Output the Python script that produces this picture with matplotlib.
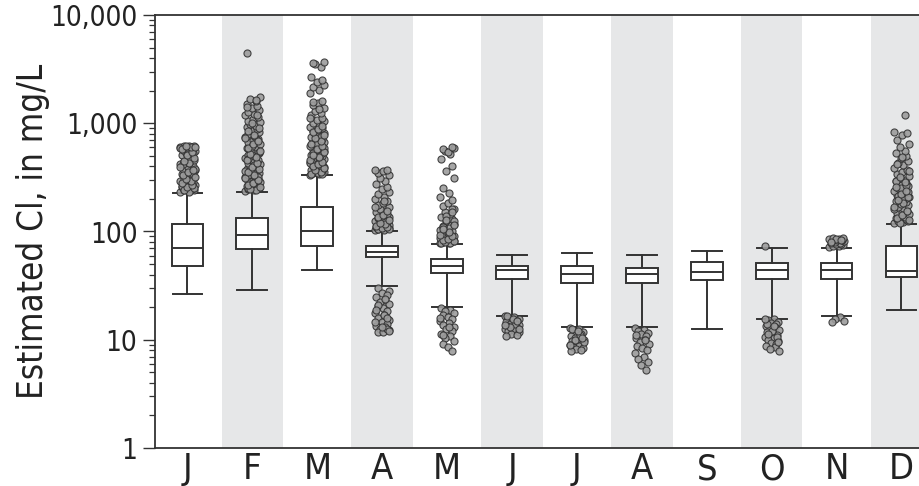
import matplotlib
matplotlib.use("Agg")
import matplotlib.pyplot as plt
import numpy as np

plt.rcParams['font.family'] = ['DejaVu Sans']
plt.rcParams['font.stretch'] = 'condensed'

months = ["J", "F", "M", "A", "M", "J", "J", "A", "S", "O", "N", "D"]

# box statistics, mg/L
whislo = [26.5, 28.8, 44, 31.6, 19.9, 16.7, 13.0, 13.0, 12.5, 15.7, 16.4, 19]
q1 = [48, 69.6, 73, 57.8, 41.4, 36.5, 33.2, 33.2, 35.9, 36.5, 36.5, 38.3]
med = [70, 92.5, 102, 64.9, 48.4, 44.5, 40.3, 40.5, 42, 44.2, 44.2, 43.5]
q3 = [118, 134, 170, 73, 55.9, 48.4, 48.4, 45.7, 52.7, 50.9, 50.9, 73]
whishi = [226, 234, 330, 102, 77, 60.9, 63.5, 60.9, 66.7, 70.6, 70.6, 118]

# outliers
jan_out = [232, 236, 240, 244, 248, 252, 256, 260, 265, 270, 276, 282, 288, 294, 300,
           308, 316, 324, 332, 340, 350, 360, 370, 380, 392, 404, 416, 430, 444, 458,
           472, 488, 504, 520, 536, 552, 568, 584, 598, 608, 612, 612, 610, 605, 245,
           262, 290, 330, 375, 420, 470, 530, 590, 234, 242, 250, 258, 268, 279, 291,
           304, 318, 336, 355, 372, 398, 425, 450, 480, 512, 545, 578, 600, 612, 608]
feb_out = [238, 242, 246, 250, 255, 260, 266, 272, 278, 285, 292, 300, 308, 317, 326,
           336, 346, 357, 368, 380, 392, 405, 418, 432, 446, 461, 477, 493, 510, 528,
           546, 565, 585, 605, 626, 648, 670, 694, 718, 743, 770, 797, 825, 855, 885,
           917, 950, 985, 1020, 1060, 1100, 1140, 1185, 1230, 1280, 1330, 1390, 1450,
           1520, 1600, 1680, 1750, 250, 280, 320, 360, 410, 470, 540, 620, 700, 4480,
           240, 248, 257, 268, 283, 298, 313, 331, 351, 374, 398, 425, 453, 485, 518,
           555, 595, 637, 682, 730, 782, 840, 900, 1000, 1200, 1420, 1640]
mar_out = [335, 340, 346, 352, 358, 365, 372, 380, 388, 396, 405, 414, 424, 434, 445,
           456, 468, 480, 493, 506, 520, 535, 550, 566, 583, 600, 618, 637, 656, 676,
           697, 719, 742, 766, 790, 815, 842, 870, 900, 930, 965, 1000, 1040, 1080,
           1130, 1180, 1240, 1300, 1380, 1460, 1550, 1620, 1900, 2050, 2150, 2250,
           2400, 2500, 2700, 3300, 3550, 3650, 3600, 350, 390, 430, 480, 530, 590, 650,
           338, 343, 355, 368, 384, 400, 419, 440, 462, 486, 512, 542, 575, 610, 646,
           686, 730, 778, 830, 885, 950, 1110, 1350, 1580]
apr_out = [104, 105, 106, 107, 108, 110, 111, 112, 114, 116, 118, 120, 123, 126, 129,
           132, 136, 140, 145, 150, 156, 162, 168, 175, 183, 192, 200, 210, 220, 232,
           245, 258, 272, 290, 310, 330, 350, 365, 373, 370, 104, 105, 106, 108, 109,
           113, 117, 121, 128, 135, 143, 155, 170, 190,
           30, 28.5, 27, 26, 25, 23.5, 22.5, 21.5, 20.5, 19.5, 18.5, 17.5, 16.8, 16,
           15.3, 14.6, 14, 13.5, 13, 12.6, 12.2, 11.9, 11.7, 12.5, 14.5, 17, 21, 12.1,
           13.2, 15.8, 19, 24]
may_out = [78, 79, 80, 81, 82, 83, 85, 87, 89, 91, 94, 97, 100, 104, 108, 113, 118,
           124, 130, 137, 145, 153, 162, 172, 182, 195, 210, 228, 250, 310, 360, 400,
           470, 520, 560, 590, 575, 545, 600, 88, 95, 110, 125, 140, 160, 78, 79, 80,
           82, 84, 86, 90, 93, 99, 106, 116, 128, 150,
           19.5, 19, 18.5, 17.8, 17, 16.3, 15.6, 15, 14.4, 13.8, 13.2, 12.6, 12, 11.4,
           10.8, 10.3, 9.8, 9.2, 8.5, 7.9, 16, 13, 11]
jun_out = [16.5, 16.2, 15.9, 15.6, 15.3, 15, 14.7, 14.4, 14.1, 13.8, 13.5, 13.2, 12.9,
           12.6, 12.3, 12, 11.7, 11.4, 11.1, 10.9, 14, 13, 12.5, 16.4, 15.5, 14.8, 13.6]
jul_out = [12.8, 12.5, 12.2, 11.8, 11.5, 11.2, 10.9, 10.6, 10.3, 10, 9.7, 9.4, 9.2, 9,
           8.8, 8.6, 8.4, 8.2, 8, 7.8, 11, 10, 9.5, 12.7, 12.0, 10.4, 9.0]
aug_out = [12.8, 12.4, 12, 11.6, 11.2, 10.8, 10.4, 10, 9.6, 9.2, 8.8, 8.4, 8, 7.5, 7,
           6.6, 6.2, 5.8, 5.3, 11, 9.9]
sep_out = []
oct_out = [74, 15.5, 15.1, 14.7, 14.3, 13.9, 13.5, 13.1, 12.7, 12.3, 11.9, 11.5, 11.1,
           10.7, 10.3, 10, 9.7, 9.4, 9.1, 8.8, 8.5, 8.2, 7.9, 14, 12, 10.5, 15.4, 13.3,
           11.3, 9.6]
nov_out = [72, 73, 74, 75, 76, 77, 78, 79, 80, 81, 82, 83, 84, 85, 86, 87, 88, 86, 84,
           80, 16.2, 15.6, 15.0, 14.6]
dec_out = [120, 122, 124, 126, 128, 131, 134, 137, 140, 144, 148, 152, 156, 160, 165,
           170, 175, 180, 186, 192, 198, 204, 210, 217, 224, 231, 238, 246, 254, 262,
           271, 280, 290, 300, 312, 325, 340, 355, 372, 390, 410, 430, 452, 475, 500,
           530, 560, 600, 640, 700, 780, 820, 835, 200, 215, 230, 250, 270, 290, 1190,
           121, 127, 133, 142, 154, 168, 183, 196, 207, 220, 235, 258, 285, 318, 365,
           420, 490]

outliers = [jan_out, feb_out, mar_out, apr_out, may_out, jun_out, jul_out, aug_out,
            sep_out, oct_out, nov_out, dec_out]

yticks = [1, 10, 100, 1000, 10000]
yticklabels = ["1", "10", "100", "1,000", "10,000"]

edge = "#333333"
band = "#e6e7e8"

fig = plt.figure(figsize=(9.19, 4.86), dpi=100)
ax = fig.add_axes([155 / 919, 38 / 486, 764 / 919, 433 / 486])

positions = np.arange(1, len(months) + 1)
for p in positions[1::2]:
    ax.axvspan(p - 0.475, p + 0.475, color=band, lw=0, zorder=0)

stats = []
for i in range(len(months)):
    stats.append(dict(whislo=whislo[i], q1=q1[i], med=med[i], q3=q3[i],
                      whishi=whishi[i], fliers=[]))

line = dict(color=edge, linewidth=1.4)
ax.bxp(stats, positions=positions, widths=0.49, capwidths=0.46, showfliers=False,
       patch_artist=True,
       boxprops=dict(facecolor="white", edgecolor=edge, linewidth=1.4),
       medianprops=line, whiskerprops=line, capprops=line, zorder=2)

# fixed horizontal spread for the outlier points
offsets = [-0.11, 0.03, -0.06, 0.1, -0.01, 0.07, -0.09, 0.05, -0.03, 0.11, -0.07,
           0.01, 0.08]
for p, vals in zip(positions, outliers):
    if not vals:
        continue
    dx = [offsets[k % len(offsets)] for k in range(len(vals))]
    ax.scatter(p + np.array(dx), vals, s=26, facecolor="#9c9c9c",
               edgecolor="#333333", linewidth=0.8, alpha=0.9, zorder=3)

ax.set_yscale("log")
ax.set_ylim(1, 10000)
ax.set_xlim(0.5, 12.27)
ax.set_yticks(yticks)
ax.set_yticklabels(yticklabels)
ax.set_xticks(positions)
ax.set_xticklabels(months)

ax.spines["right"].set_visible(False)
for s in ["left", "top", "bottom"]:
    ax.spines[s].set_color(edge)
    ax.spines[s].set_linewidth(1.3)

ax.tick_params(axis="y", which="major", length=8.6, width=1.0, color=edge,
               labelsize=20, pad=4, labelcolor="#222222")
ax.tick_params(axis="y", which="minor", length=4.3, width=0.9, color=edge)
ax.tick_params(axis="x", length=0, labelsize=26, pad=3, labelcolor="#222222")

ax.set_ylabel("Estimated Cl, in mg/L", fontsize=25, color="#222222")
ax.yaxis.set_label_coords(-0.138, 0.5)

fig.savefig("out.png", dpi=100)
